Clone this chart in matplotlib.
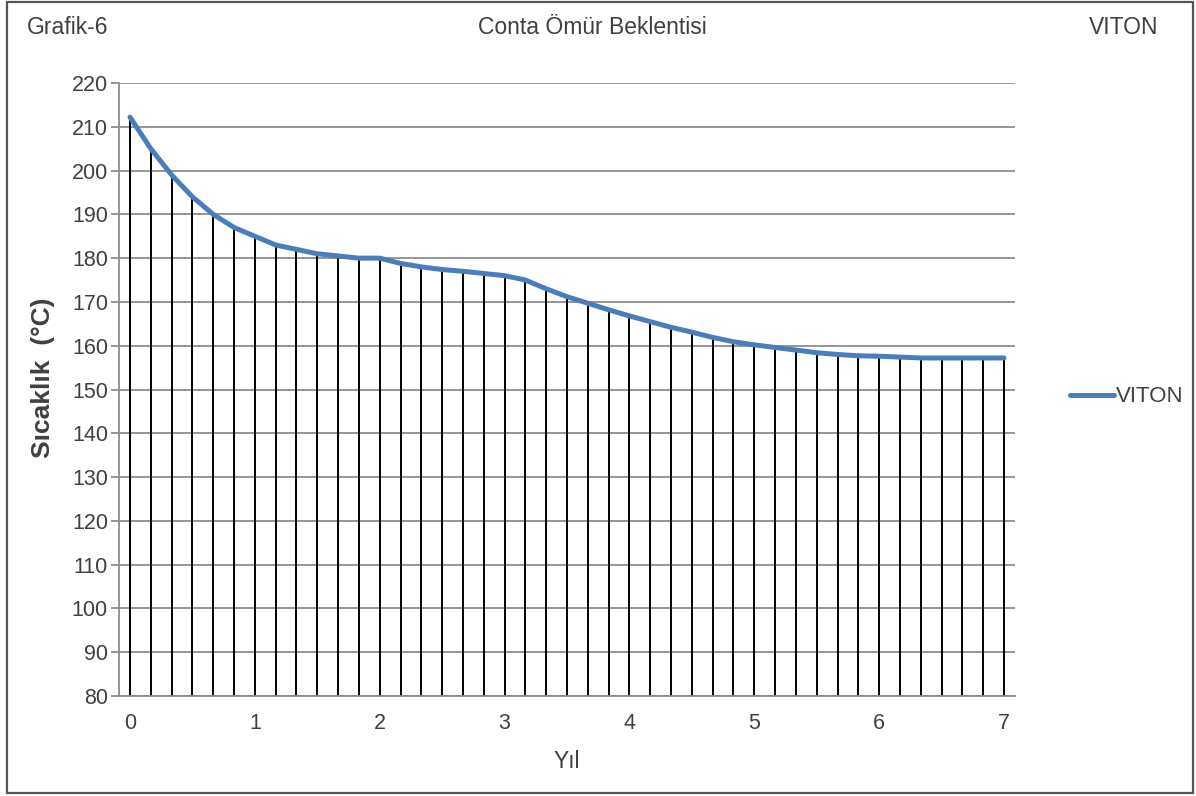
import numpy as np
import matplotlib
matplotlib.use('Agg')
import matplotlib.pyplot as plt
from matplotlib.patches import Rectangle

plt.rcParams['font.family'] = ['Liberation Sans', 'DejaVu Sans']

# years, 6 points per year
years = [i / 6 for i in range(43)]
temps = [212.2, 205, 199, 194, 190, 187, 185, 183, 182, 181,
         180.5, 180, 180, 178.8, 178, 177.4, 177, 176.5, 176, 175,
         173, 171.2, 169.7, 168.2, 166.8, 165.5, 164.2, 163.1, 161.9, 160.9,
         160.2, 159.6, 159.0, 158.4, 158.0, 157.7, 157.6, 157.4, 157.2, 157.2,
         157.2, 157.2, 157.2]
x_ticks = [0, 1, 2, 3, 4, 5, 6, 7]
y_ticks = list(range(80, 221, 10))

txt = '#404040'
W, H = 1196, 796
fig = plt.figure(figsize=(W / 100, H / 100), dpi=100)
ax = fig.add_axes([119 / W, 1 - 696 / H, (1015 - 119) / W, (696 - 83) / H])

ax.set_xlim(-0.088, 7.088)
ax.set_ylim(80, 220)
ax.set_yticks(y_ticks)
ax.set_xticks(x_ticks)
ax.grid(axis='y', color='#8c8c8c', linewidth=1.3)
ax.set_axisbelow(True)

# drop lines
ax.vlines(years, 80, temps, color='black', linewidth=1.4, zorder=2)
ax.plot(years, temps, color='#4a7ebb', linewidth=3.6, solid_capstyle='round',
        label='VITON', zorder=3)

for s in ['top', 'right']:
    ax.spines[s].set_visible(False)
ax.spines['left'].set_color('#8c8c8c')
ax.spines['bottom'].set_color('#8c8c8c')
ax.spines['left'].set_linewidth(1.3)
ax.spines['bottom'].set_linewidth(1.3)
ax.tick_params(axis='y', length=6, width=1.3, color='#8c8c8c', labelsize=15.5,
               labelcolor=txt, pad=2)
ax.tick_params(axis='x', length=0, labelsize=15.5, labelcolor=txt, pad=12)

ax.set_xlabel('Yıl', fontsize=16.5, color=txt, labelpad=12)
fig.text(43 / W, 1 - 378 / H, 'Sıcaklık  (°C)', fontsize=19, color=txt, fontweight='bold',
         rotation=90, ha='center', va='center')

fig.text(27 / W, 1 - 28 / H, 'Grafik-6', fontsize=16.5, color=txt, va='center', ha='left')
fig.text(592 / W, 1 - 28 / H, 'Conta Ömür Beklentisi', fontsize=16.5, color=txt,
         va='center', ha='center')
fig.text(1124 / W, 1 - 28 / H, 'VITON', fontsize=16.5, color=txt, va='center', ha='center')

fig.legend(loc='center left', bbox_to_anchor=(1070 / W, 1 - 397 / H), frameon=False,
           fontsize=16, labelcolor=txt, handlelength=2.0, handletextpad=0.05,
           borderpad=0, borderaxespad=0)

fig.add_artist(Rectangle((7 / W, 1 - 793 / H), (1193 - 7) / W, (793 - 2) / H,
                         transform=fig.transFigure, fill=False, edgecolor='#555555',
                         linewidth=1.6))

fig.savefig('out.png', dpi=100)
